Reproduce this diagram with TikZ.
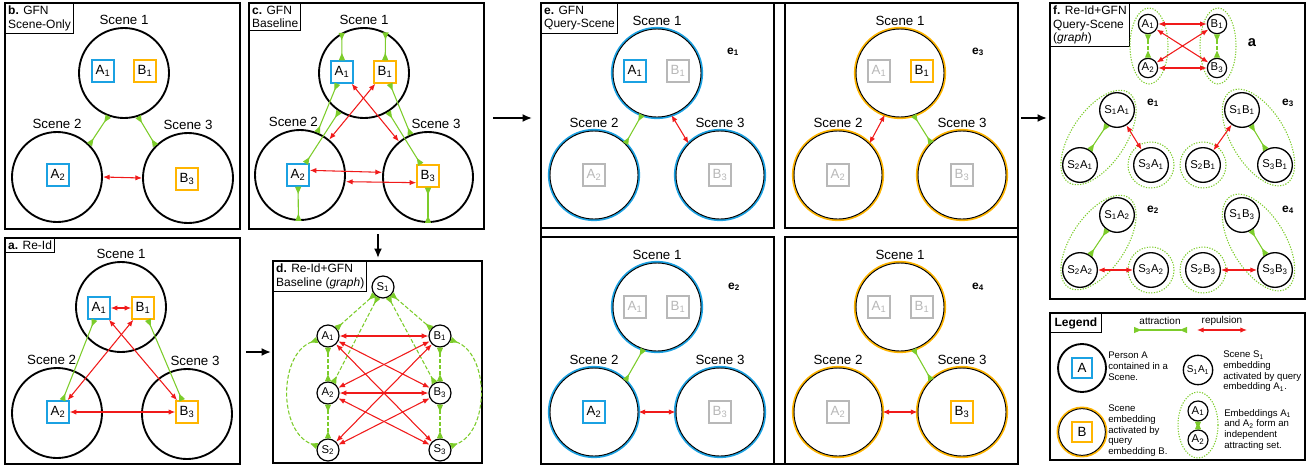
\documentclass[tikz,border=0pt]{standalone}
\usepackage{fontspec}
\setmainfont{Liberation Sans}
\usetikzlibrary{arrows.meta,positioning}

\definecolor{pblue}{RGB}{27,161,226}
\definecolor{porange}{RGB}{255,181,0}
\definecolor{attgreen}{RGB}{124,204,42}
\definecolor{repred}{RGB}{240,26,26}
\definecolor{faded}{RGB}{184,184,184}

\newcommand{\idx}[1]{\textsubscript{#1}}

\tikzset{
	panel/.style={draw, line width=1.5pt},
	subpanel/.style={draw, line width=1pt},
	tag/.style={draw, line width=0.8pt, fill=white, anchor=north west, align=left, inner sep=2pt, font=\fontsize{9}{10}\selectfont},
	scenetxt/.style={font=\fontsize{10}{12}\selectfont, inner sep=2pt},
	scene/.style={circle, draw, line width=1.4pt, minimum size=67.5pt, inner sep=0pt},
	qscene/.style={circle, draw, fill=white, line width=0.7pt, minimum size=66pt, inner sep=0pt, preaction={draw=#1, line width=3.2pt}},
	pbox/.style={draw=#1, line width=1.1pt, minimum size=16.5pt, inner sep=0pt, font=\fontsize{10}{12}\selectfont},
	gbox/.style={pbox=faded, text=faded},
	gnode/.style={circle, draw, line width=0.9pt, minimum size=16.5pt, inner sep=0pt, font=\fontsize{8.5}{10}\selectfont},
	snode/.style={circle, draw, line width=1pt, minimum size=26pt, inner sep=0pt, font=\fontsize{8.5}{10}\selectfont},
	attract/.style={draw=attgreen, line width=0.8pt, {Triangle[reversed,length=5.5pt,width=4.5pt]}-{Triangle[reversed,length=5.5pt,width=4.5pt]}},
	repel/.style={draw=repred, line width=0.8pt, {Latex[length=5pt,width=4pt]}-{Latex[length=5pt,width=4pt]}},
	link/.style={dash pattern=on 3pt off 1.5pt},
	grp/.style={draw=attgreen, line width=0.8pt, dash pattern=on 0.9pt off 1.1pt},
	etag/.style={font=\bfseries\fontsize{9}{10}\selectfont},
	note/.style={anchor=north west, align=left, inner sep=0pt, font=\fontsize{7.2}{8}\selectfont},
	flow/.style={line width=1.5pt, -{Latex[length=7pt,width=6pt]}}
}

\begin{document}
\begin{tikzpicture}[x=0.75pt,y=-0.75pt]
	\useasboundingbox (0,0) rectangle (1313,465);

	% b. GFN Scene-Only
	\draw[panel] (5,3) rectangle (240,229);
	\node[tag] (btag) at (5,3) {\textbf{b.} GFN\\Scene-Only};
	\node[scene,label={[scenetxt]above:Scene 1}] (bs1) at (124,73) {};
	\node[scene,label={[scenetxt]above:Scene 2}] (bs2) at (57,177) {};
	\node[scene,label={[scenetxt]above:Scene 3}] (bs3) at (188,178) {};
	\node[pbox=pblue] (bA1) at (103,71) {A\idx{1}};
	\node[pbox=porange] (bB1) at (145,71) {B\idx{1}};
	\node[pbox=pblue] (bA2) at (58,175) {A\idx{2}};
	\node[pbox=porange] (bB3) at (187,179) {B\idx{3}};
	\draw[attract] (bs1.-110) -- (bs2.45);
	\draw[attract] (bs1.-72) -- (bs3.135);
	\draw[repel] (bs2.east) -- (bs3.west);

	% a. Re-Id
	\draw[panel] (5,238) rectangle (240,464);
	\node[tag] (atag) at (5,238) {\textbf{a.} Re-Id};
	\node[scene,label={[scenetxt]above:Scene 1}] (as1) at (121,307) {};
	\node[scene,label={[scenetxt,xshift=-4pt]above:Scene 2}] (as2) at (57,413) {};
	\node[scene,label={[scenetxt,xshift=6pt]above:Scene 3}] (as3) at (187,414) {};
	\node[pbox=pblue] (aA1) at (99,308) {A\idx{1}};
	\node[pbox=porange] (aB1) at (143,308) {B\idx{1}};
	\node[pbox=pblue] (aA2) at (58,412) {A\idx{2}};
	\node[pbox=porange] (aB3) at (187,412) {B\idx{3}};
	\draw[repel] (aA1) -- (aB1);
	\draw[attract] (aA1) -- (aA2);
	\draw[repel] (aB1) -- (aA2);
	\draw[repel] (aA1) -- (aB3);
	\draw[attract] (aB1) -- (aB3);
	\draw[repel] (aA2) -- (aB3);

	% c. GFN Baseline
	\draw[panel] (249,3) rectangle (484,229);
	\node[tag] (ctag) at (249,3) {\textbf{c.} GFN\\Baseline};
	\node[scene,label={[scenetxt]above:Scene 1}] (cs1) at (364,73) {};
	\node[scene,label={[scenetxt,xshift=-5pt]above:Scene 2}] (cs2) at (300,175) {};
	\node[scene,label={[scenetxt,xshift=6pt]above:Scene 3}] (cs3) at (428,177) {};
	\node[pbox=pblue] (cA1) at (342,72) {A\idx{1}};
	\node[pbox=porange] (cB1) at (385,72) {B\idx{1}};
	\node[pbox=pblue] (cA2) at (298,175) {A\idx{2}};
	\node[pbox=porange] (cB3) at (428,176) {B\idx{3}};
	\draw[attract] (cA1) -- (cs1.119);
	\draw[attract] (cB1) -- (cs1.62);
	\draw[attract] (cA2) -- (cs2.-92);
	\draw[attract] (cB3) -- (cs3.-90);
	\draw[attract] (cA1) -- (cs2);
	\draw[attract] (cs1) -- (cA2);
	\draw[attract] (cB1) -- (cs3);
	\draw[attract] (cs1) -- (cB3);
	\draw[repel] (cA1) -- (cs3);
	\draw[repel] (cB1) -- (cs2);
	\draw[repel] ([yshift=3.5pt]cA2.east) -- ([yshift=3.5pt]cs3.west);
	\draw[repel] ([yshift=-5pt]cs2.east) -- ([yshift=-5pt]cB3.west);

	% d. Re-Id+GFN Baseline (graph)
	\draw[panel] (273,261) rectangle (482,463);
	\node[tag] (dtag) at (273,261) {\textbf{d.} Re-Id+GFN\\Baseline (\textit{graph})};
	\node[gnode] (dS1) at (383,287) {S\idx{1}};
	\node[gnode] (dA1) at (328,336) {A\idx{1}};
	\node[gnode] (dB1) at (440,336) {B\idx{1}};
	\node[gnode] (dA2) at (328,393) {A\idx{2}};
	\node[gnode] (dB3) at (440,393) {B\idx{3}};
	\node[gnode] (dS2) at (328,450) {S\idx{2}};
	\node[gnode] (dS3) at (440,450) {S\idx{3}};
	\draw[attract,link] (dS1) -- (dA1);
	\draw[attract,link] (dS1) -- (dB1);
	\draw[attract,link] (dS1) -- (dA2);
	\draw[attract,link] (dS1) -- (dB3);
	\draw[attract,link] (dA1) -- (dA2);
	\draw[attract,link] (dA2) -- (dS2);
	\draw[attract,link] (dB1) -- (dB3);
	\draw[attract,link] (dB3) -- (dS3);
	\draw[attract,link] (dA1) to[out=200,in=160] (dS2);
	\draw[attract,link] (dB1) to[out=-20,in=20] (dS3);
	\draw[repel] (dA1) -- (dB1);
	\draw[repel] (dA2) -- (dB3);
	\draw[repel] (dA1) -- (dB3);
	\draw[repel] (dB1) -- (dA2);
	\draw[repel] (dA1) -- (dS3);
	\draw[repel] (dB1) -- (dS2);
	\draw[repel] (dA2) -- (dS3);
	\draw[repel] (dB3) -- (dS2);

	% arrows between panels
	\coordinate (cOut) at (378,234);
	\coordinate (dIn) at (378,258);
	\coordinate (aOut) at (246,352);
	\coordinate (dLeft) at (271,352);
	\coordinate (bcOut) at (493,118);
	\coordinate (eIn) at (532,118);
	\coordinate (eOut) at (1021,118);
	\coordinate (fIn) at (1047,118);
	\draw[flow] (cOut) -- (dIn);
	\draw[flow] (aOut) -- (dLeft);
	\draw[flow] (bcOut) -- (eIn);
	\draw[flow] (eOut) -- (fIn);

	% e. GFN Query-Scene
	\draw[panel] (541,3) rectangle (1018,464);
	\draw[subpanel] (541,3) rectangle (774,228);
	\draw[subpanel] (785,3) rectangle (1018,228);
	\draw[subpanel] (541,237) rectangle (774,464);
	\draw[subpanel] (785,237) rectangle (1018,464);
	\node[tag] (etagbox) at (541,3) {\textbf{e.} GFN\\Query-Scene};

	% e1
	\node[qscene=pblue,label={[scenetxt]above:Scene 1}] (e1s1) at (657,73) {};
	\node[qscene=pblue,label={[scenetxt]above:Scene 2}] (e1s2) at (594,175) {};
	\node[qscene=pblue,label={[scenetxt]above:Scene 3}] (e1s3) at (720,175) {};
	\node[pbox=pblue] (e1A1) at (635,71) {A\idx{1}};
	\node[gbox] (e1B1) at (678,71) {B\idx{1}};
	\node[gbox] (e1A2) at (594,175) {A\idx{2}};
	\node[gbox] (e1B3) at (720,175) {B\idx{3}};
	\node[etag] (e1tag) at (733,52) {e\idx{1}};
	\draw[attract] (e1s1.-110) -- (e1s2.45);
	\draw[repel] (e1s1.-71) -- (e1s3.135);

	% e2
	\begin{scope}[shift={(0,234)}]
		\node[qscene=pblue,label={[scenetxt]above:Scene 1}] (e2s1) at (657,73) {};
		\node[qscene=pblue,label={[scenetxt]above:Scene 2}] (e2s2) at (594,178) {};
		\node[qscene=pblue,label={[scenetxt]above:Scene 3}] (e2s3) at (720,178) {};
		\node[gbox] (e2A1) at (635,73) {A\idx{1}};
		\node[gbox] (e2B1) at (678,73) {B\idx{1}};
		\node[pbox=pblue] (e2A2) at (594,178) {A\idx{2}};
		\node[gbox] (e2B3) at (720,178) {B\idx{3}};
		\node[etag] (e2tag) at (734,53) {e\idx{2}};
		\draw[attract] (e2s1.-108) -- (e2s2.45);
		\draw[repel] (e2s2.east) -- (e2s3.west);
	\end{scope}

	% e3
	\begin{scope}[shift={(243,0)}]
		\node[qscene=porange,label={[scenetxt]above:Scene 1}] (e3s1) at (657,73) {};
		\node[qscene=porange,label={[scenetxt]above:Scene 2}] (e3s2) at (595,175) {};
		\node[qscene=porange,label={[scenetxt]above:Scene 3}] (e3s3) at (719,175) {};
		\node[gbox] (e3A1) at (636,71) {A\idx{1}};
		\node[pbox=porange] (e3B1) at (679,71) {B\idx{1}};
		\node[gbox] (e3A2) at (595,175) {A\idx{2}};
		\node[gbox] (e3B3) at (719,175) {B\idx{3}};
		\node[etag] (e3tag) at (735,52) {e\idx{3}};
		\draw[repel] (e3s1.-110) -- (e3s2.45);
		\draw[attract] (e3s1.-72) -- (e3s3.134);
	\end{scope}

	% e4
	\begin{scope}[shift={(243,234)}]
		\node[qscene=porange,label={[scenetxt]above:Scene 1}] (e4s1) at (657,73) {};
		\node[qscene=porange,label={[scenetxt]above:Scene 2}] (e4s2) at (595,178) {};
		\node[qscene=porange,label={[scenetxt]above:Scene 3}] (e4s3) at (719,178) {};
		\node[gbox] (e4A1) at (636,73) {A\idx{1}};
		\node[gbox] (e4B1) at (679,73) {B\idx{1}};
		\node[gbox] (e4A2) at (595,178) {A\idx{2}};
		\node[pbox=porange] (e4B3) at (719,178) {B\idx{3}};
		\node[etag] (e4tag) at (735,53) {e\idx{4}};
		\draw[attract] (e4s1.-72) -- (e4s3.134);
		\draw[repel] (e4s2.east) -- (e4s3.west);
	\end{scope}

	% f. Re-Id+GFN Query-Scene (graph)
	\draw[panel] (1050,3) rectangle (1305,299);
	\node[tag] (ftag) at (1050,3) {\textbf{f.} Re-Id+GFN\\Query-Scene\\(\textit{graph})};
	\draw[grp] (1149,46) ellipse [x radius=19, y radius=38];
	\draw[grp] (1218,46) ellipse [x radius=18, y radius=38];
	\node[gnode,minimum size=14.5pt] (fA1) at (1148,24) {A\idx{1}};
	\node[gnode,minimum size=14.5pt] (fB1) at (1217,24) {B\idx{1}};
	\node[gnode,minimum size=14.5pt] (fA2) at (1148,68) {A\idx{2}};
	\node[gnode,minimum size=14.5pt] (fB3) at (1217,68) {B\idx{3}};
	\node[etag,font=\bfseries\fontsize{11}{12}\selectfont] (fatag) at (1252,43) {a};
	\draw[attract,link] (fA1) -- (fA2);
	\draw[attract,link] (fB1) -- (fB3);
	\draw[repel] (fA1) -- (fB1);
	\draw[repel] (fA2) -- (fB3);
	\draw[repel] (fA1) -- (fB3);
	\draw[repel] (fB1) -- (fA2);

	% f, e1 and e3 groups
	\draw[grp,rotate around={56:(1098.5,137.5)}] (1098.5,137.5) ellipse [x radius=54, y radius=27];
	\draw[grp] (1151,165) circle [radius=23];
	\draw[grp,rotate around={-59:(1258.5,137.5)}] (1258.5,137.5) ellipse [x radius=54, y radius=27];
	\draw[grp] (1203,165) circle [radius=23];
	\node[snode] (fS1A1) at (1117,110) {S\idx{1}A\idx{1}};
	\node[snode] (fS2A1) at (1080,165) {S\idx{2}A\idx{1}};
	\node[snode] (fS3A1) at (1151,165) {S\idx{3}A\idx{1}};
	\node[snode] (fS1B1) at (1242,110) {S\idx{1}B\idx{1}};
	\node[snode] (fS2B1) at (1203,165) {S\idx{2}B\idx{1}};
	\node[snode] (fS3B1) at (1275,165) {S\idx{3}B\idx{1}};
	\node[etag] (fe1tag) at (1153,103) {e\idx{1}};
	\node[etag] (fe3tag) at (1288,103) {e\idx{3}};
	\draw[attract] (fS1A1) -- (fS2A1);
	\draw[repel] (fS1A1) -- (fS3A1);
	\draw[repel] (fS1B1) -- (fS2B1);
	\draw[attract] (fS1B1) -- (fS3B1);

	% f, e2 and e4 groups
	\draw[grp,rotate around={56:(1098.5,242.5)}] (1098.5,242.5) ellipse [x radius=54, y radius=27];
	\draw[grp] (1151,270) circle [radius=23];
	\draw[grp,rotate around={-59:(1258.5,242.5)}] (1258.5,242.5) ellipse [x radius=54, y radius=27];
	\draw[grp] (1203,270) circle [radius=23];
	\node[snode] (fS1A2) at (1117,215) {S\idx{1}A\idx{2}};
	\node[snode] (fS2A2) at (1080,270) {S\idx{2}A\idx{2}};
	\node[snode] (fS3A2) at (1151,270) {S\idx{3}A\idx{2}};
	\node[snode] (fS1B3) at (1242,215) {S\idx{1}B\idx{3}};
	\node[snode] (fS2B3) at (1203,270) {S\idx{2}B\idx{3}};
	\node[snode] (fS3B3) at (1275,270) {S\idx{3}B\idx{3}};
	\node[etag] (fe2tag) at (1153,210) {e\idx{2}};
	\node[etag] (fe4tag) at (1288,210) {e\idx{4}};
	\draw[attract] (fS1A2) -- (fS2A2);
	\draw[repel] (fS2A2) -- (fS3A2);
	\draw[attract] (fS1B3) -- (fS3B3);
	\draw[repel] (fS2B3) -- (fS3B3);

	% Legend
	\draw[panel] (1050,313) rectangle (1305,460);
	\node[tag,font=\bfseries\fontsize{9}{10}\selectfont,inner sep=3pt] (ltag) at (1050,313) {Legend};
	\node[font=\fontsize{7.5}{9}\selectfont] (lattr) at (1160,321) {attraction};
	\node[font=\fontsize{7.5}{9}\selectfont] (lrep) at (1222,321) {repulsion};
	\coordinate (la1) at (1134,330);
	\coordinate (la2) at (1187,330);
	\coordinate (lr1) at (1197,330);
	\coordinate (lr2) at (1247,330);
	\draw[attract] (la1) -- (la2);
	\draw[repel] (lr1) -- (lr2);
	\node[scene,minimum size=36pt] (lsA) at (1082,368) {};
	\node[pbox=pblue,minimum size=15pt] (lA) at (1082,368) {A};
	\node[note] (lnA) at (1108,352) {Person A\\contained in a\\Scene.};
	\node[snode,minimum size=22pt,font=\fontsize{7.5}{9}\selectfont] (lS) at (1198,370) {S\idx{1}A\idx{1}};
	\node[note] (lnS) at (1223,351) {Scene S\idx{1}\\embedding\\activated by query\\embedding A\idx{1}.};
	\node[qscene=porange,minimum size=35pt] (lsB) at (1082,432) {};
	\node[pbox=porange,minimum size=15pt] (lB) at (1082,432) {B};
	\node[note] (lnB) at (1108,405) {Scene\\embedding\\activated by\\query\\embedding B.};
	\draw[grp] (1198,425) ellipse [x radius=20, y radius=33];
	\node[gnode,minimum size=15pt] (lA1) at (1198,411) {A\idx{1}};
	\node[gnode,minimum size=15pt] (lA2) at (1198,440) {A\idx{2}};
	\draw[attract] (lA1) -- (lA2);
	\node[note] (lnE) at (1224,409) {Embeddings A\idx{1}\\and A\idx{2} form an\\independent\\attracting set.};
\end{tikzpicture}
\end{document}
